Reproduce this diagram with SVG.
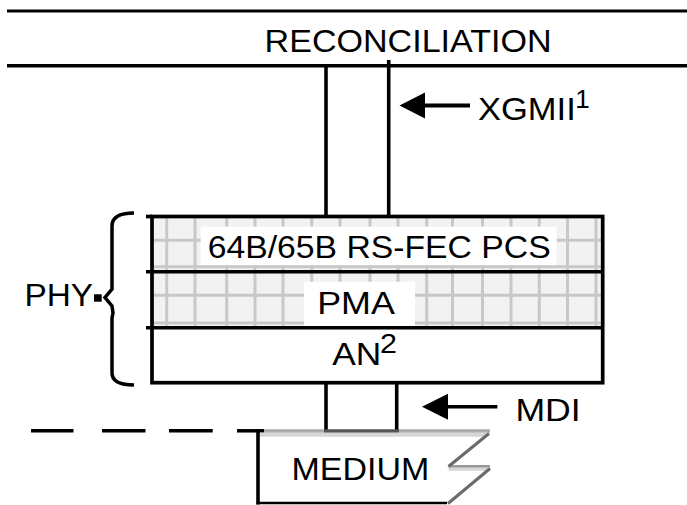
<svg xmlns="http://www.w3.org/2000/svg" width="687" height="505" viewBox="0 0 687 505">
<style>
text{font-family:"Liberation Sans",Arial,sans-serif;font-size:32px;fill:#000}
.sup{font-size:26px}
.ln{stroke:#000;stroke-width:3.6;fill:none}
.grid line{stroke:#c8c8c8;stroke-width:3}
</style>
<defs>
<clipPath id="gridclip"><rect x="152" y="216" width="450" height="111"/></clipPath>
</defs>
<g id="reconciliation">
<line class="ln" x1="7" y1="11" x2="687" y2="11" style="stroke-width:3"/>
<line class="ln" x1="7" y1="65.7" x2="687" y2="65.7" style="stroke-width:3.4"/>
<text x="264.6" y="52" textLength="287" lengthAdjust="spacingAndGlyphs">RECONCILIATION</text>
</g>
<g id="phy">
<rect x="152" y="216.5" width="450.7" height="111" fill="#f2f2f2"/>
<g class="grid" clip-path="url(#gridclip)">
<line x1="166.7" y1="216" x2="166.7" y2="328"/><line x1="195" y1="216" x2="195" y2="328"/>
<line x1="226.7" y1="216" x2="226.7" y2="328"/><line x1="255" y1="216" x2="255" y2="328"/>
<line x1="283" y1="216" x2="283" y2="328"/><line x1="311.7" y1="216" x2="311.7" y2="328"/>
<line x1="340" y1="216" x2="340" y2="328"/><line x1="370" y1="216" x2="370" y2="328"/>
<line x1="398" y1="216" x2="398" y2="328"/><line x1="426.7" y1="216" x2="426.7" y2="328"/>
<line x1="452.5" y1="216" x2="452.5" y2="328"/><line x1="482.5" y1="216" x2="482.5" y2="328"/>
<line x1="511" y1="216" x2="511" y2="328"/><line x1="539.3" y1="216" x2="539.3" y2="328"/>
<line x1="567.5" y1="216" x2="567.5" y2="328"/><line x1="596" y1="216" x2="596" y2="328"/>
<line x1="152" y1="240.3" x2="603" y2="240.3"/><line x1="152" y1="266.7" x2="603" y2="266.7"/>
<line x1="152" y1="295.3" x2="603" y2="295.3"/><line x1="152" y1="323" x2="603" y2="323"/>
</g>
<g id="pcs">
<rect x="200.7" y="226.7" width="356" height="38.3" fill="#fff"/>
<text x="207.7" y="258.3" textLength="343" lengthAdjust="spacingAndGlyphs">64B/65B RS-FEC PCS</text>
</g>
<g id="pma">
<rect x="304" y="281.7" width="111" height="44.3" fill="#fff"/>
<text x="317.2" y="314" textLength="77.7" lengthAdjust="spacingAndGlyphs">PMA</text>
</g>
<g id="an">
<text x="332.3" y="365" textLength="49" lengthAdjust="spacingAndGlyphs">AN</text>
<text class="sup" x="380" y="353.3" style="font-size:27px" textLength="17" lengthAdjust="spacingAndGlyphs">2</text>
</g>
<rect class="ln" x="152" y="216.5" width="450.7" height="166.2" style="stroke-width:3.7"/>
<line class="ln" x1="146" y1="216.5" x2="152" y2="216.5" style="stroke-width:3.7"/>
<line class="ln" x1="146" y1="271.7" x2="603" y2="271.7" style="stroke-width:3.5"/>
<line class="ln" x1="146" y1="327.7" x2="603" y2="327.7" style="stroke-width:3.5"/>
<path d="M134,213 Q112,213 112,226 L112,289 L105,297.5 L112,306 L113,313 L112,318 L112,373 Q112,385 134,385" fill="none" stroke="#000" stroke-width="3.5"/>
<rect x="94" y="294.3" width="7.7" height="7.4" fill="#000"/>
<text x="24.4" y="306" textLength="68.6" lengthAdjust="spacingAndGlyphs">PHY</text>
</g>
<g id="connectors">
<line class="ln" x1="326" y1="66" x2="326" y2="216"/>
<line class="ln" x1="388.7" y1="60" x2="388.7" y2="216"/>
<line class="ln" x1="326" y1="383" x2="326" y2="431"/>
<line class="ln" x1="396.7" y1="383" x2="396.7" y2="431"/>
<line x1="324" y1="431" x2="399" y2="431" stroke="#555" stroke-width="3.5"/>
<line class="ln" x1="420" y1="105.5" x2="470" y2="105.5" style="stroke-width:3.8"/>
<polygon points="399.5,105.5 425,92.5 425,118.5" fill="#000"/>
<line class="ln" x1="442" y1="406.7" x2="497.4" y2="406.7" style="stroke-width:3.6"/>
<polygon points="422,406.7 448,393.7 448,419.7" fill="#000"/>
<line class="ln" x1="31" y1="430.8" x2="73.5" y2="430.8" style="stroke-width:3.5"/>
<line class="ln" x1="102" y1="430.8" x2="145.5" y2="430.8" style="stroke-width:3.5"/>
<line class="ln" x1="169" y1="430.8" x2="212.7" y2="430.8" style="stroke-width:3.5"/>
<line class="ln" x1="237" y1="430.8" x2="264" y2="430.8" style="stroke-width:3.5"/>
</g>
<g id="xgmii">
<text x="478" y="119.5" textLength="97.8" lengthAdjust="spacingAndGlyphs">XGMII</text>
<text class="sup" x="575.2" y="107.5">1</text>
</g>
<g id="mdi">
<text x="515.4" y="420.7" textLength="65.3" lengthAdjust="spacingAndGlyphs">MDI</text>
</g>
<g id="medium">
<line x1="264" y1="431" x2="324" y2="431" stroke="#aaa" stroke-width="3.5"/>
<line x1="399" y1="431" x2="490" y2="431" stroke="#aaa" stroke-width="3.5"/>
<line x1="260" y1="434.8" x2="486" y2="434.8" stroke="#d6d6d6" stroke-width="4"/>
<line x1="258" y1="429" x2="258" y2="504.5" stroke="#000" stroke-width="3.6"/>
<line x1="256.5" y1="503" x2="447" y2="503" stroke="#000" stroke-width="2.6"/>
<line x1="448.5" y1="469" x2="488" y2="469" stroke="#d6d6d6" stroke-width="3.5"/>
<line x1="448.5" y1="466.2" x2="490" y2="466.2" stroke="#999" stroke-width="2.4"/>
<line x1="489" y1="433.5" x2="448.5" y2="466.5" stroke="#6a6a6a" stroke-width="3"/>
<line x1="490" y1="468.5" x2="448" y2="503.5" stroke="#6a6a6a" stroke-width="3"/>
<text x="291.5" y="480" textLength="137.7" lengthAdjust="spacingAndGlyphs">MEDIUM</text>
</g>
</svg>
